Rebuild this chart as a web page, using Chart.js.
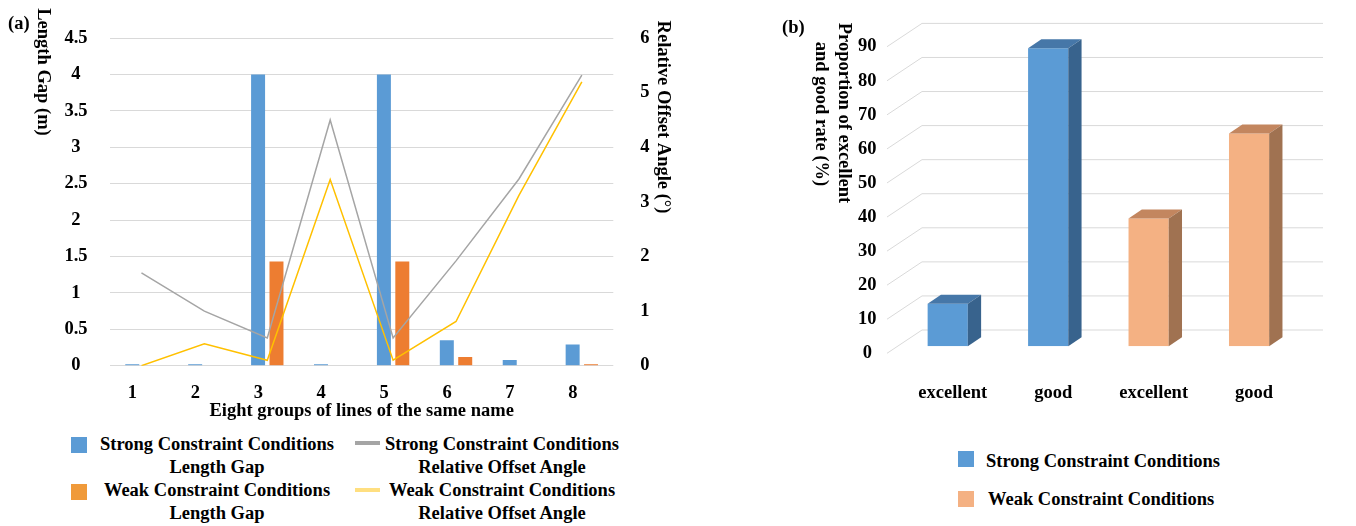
<!DOCTYPE html>
<html>
<head>
<meta charset="utf-8">
<script src="https://cdn.jsdelivr.net/npm/chart.js@4.4.1/dist/chart.umd.min.js"></script>
<style>
  body { margin: 0; background: #fff; }
  #wrap { position: relative; width: 1356px; height: 526px; overflow: hidden;
          font-family: "Liberation Serif", "Times New Roman", serif; font-weight: bold; font-size: 18.5px; color: #000; }
  canvas { position: absolute; top: 0; }
  .lg { position: absolute; line-height: 23px; white-space: nowrap; }
  .c { text-align: center; width: 270px; }
  .sw { position: absolute; }
</style>
</head>
<body>
<div id="wrap">
  <canvas id="chartA" width="700" height="420" style="left:0"></canvas>
  <canvas id="chartB" width="586" height="420" style="left:770px"></canvas>

  <!-- legend (a) -->
  <div class="sw" style="left:71px;top:437px;width:16px;height:16px;background:#5b9bd5"></div>
  <div class="lg c" style="left:82px;top:433px">Strong Constraint Conditions<br>Length Gap</div>
  <div class="sw" style="left:355px;top:441px;width:25px;height:4px;background:#a5a5a5"></div>
  <div class="lg c" style="left:367px;top:433px">Strong Constraint Conditions<br>Relative Offset Angle</div>
  <div class="sw" style="left:71px;top:484px;width:16px;height:16px;background:#f09a3a"></div>
  <div class="lg c" style="left:82px;top:479px">Weak Constraint Conditions<br>Length Gap</div>
  <div class="sw" style="left:355px;top:488px;width:25px;height:4px;background:#ffdf80"></div>
  <div class="lg c" style="left:367px;top:479px">Weak Constraint Conditions<br>Relative Offset Angle</div>

  <!-- legend (b) -->
  <div class="sw" style="left:958px;top:451px;width:16px;height:16px;background:#5b9bd5"></div>
  <div class="lg" style="left:986px;top:450px">Strong Constraint Conditions</div>
  <div class="sw" style="left:958px;top:491px;width:16px;height:16px;background:#f4b183"></div>
  <div class="lg" style="left:988px;top:488px">Weak Constraint Conditions</div>
</div>
<script>
// (a) eight groups of lines
const groups = ['1', '2', '3', '4', '5', '6', '7', '8'];
const strongGap = [0.02, 0.02, 4, 0.02, 4, 0.35, 0.08, 0.29];
const weakGap = [0, 0, 1.43, 0, 1.43, 0.12, 0, 0.02];
const strongAngle = [1.70, 1.00, 0.51, 4.50, 0.51, 1.92, 3.42, 5.32];
const weakAngle = [0, 0.40, 0.10, 3.41, 0.10, 0.81, 3.12, 5.20];

// (b) excellent / good rate
const rateCats = ['excellent', 'good', 'excellent', 'good'];
const strongRate = [12.5, 87.5, null, null];
const weakRate = [null, null, 37.5, 62.5];

const GRID = '#d9d9d9';
const FONT = '"Liberation Serif", "Times New Roman", serif';

Chart.defaults.font.family = FONT;
Chart.defaults.font.size = 18.5;
Chart.defaults.font.weight = 'bold';
Chart.defaults.color = '#000';

// panel tag + axis titles that read top to bottom
const sideTitles = {
  id: 'sideTitles',
  afterDraw(chart, args, o) {
    const ctx = chart.ctx;
    ctx.save();
    ctx.fillStyle = '#000';
    ctx.font = 'bold 18.5px ' + FONT;
    ctx.textBaseline = 'middle';
    ctx.textAlign = 'left';
    ctx.fillText(o.tag, o.tagX, o.tagY);
    o.lines.forEach(l => {
      ctx.save();
      ctx.translate(l.x, l.y);
      ctx.rotate(Math.PI / 2);
      ctx.textAlign = 'center';
      ctx.fillText(l.text, 0, 0);
      ctx.restore();
    });
    ctx.restore();
  }
};

// fake 3D columns and back wall for (b)
const box3d = {
  id: 'box3d',
  beforeDatasetsDraw(chart, args, o) {
    const { ctx, chartArea: a, scales: { y } } = chart;
    ctx.save();
    ctx.strokeStyle = GRID;
    ctx.lineWidth = 1;
    y.ticks.forEach(t => {
      const p = y.getPixelForValue(t.value);
      ctx.beginPath();
      ctx.moveTo(a.left + o.frontX, p + o.frontY);
      ctx.lineTo(a.left + o.backX, p + o.backY);
      ctx.lineTo(a.right + o.backEnd, p + o.backY);
      ctx.stroke();
    });
    ctx.restore();
  },
  afterDatasetsDraw(chart, args, o) {
    const ctx = chart.ctx;
    const dx = o.dx, dy = o.dy;
    ctx.save();
    chart.data.datasets.forEach((ds, di) => {
      const meta = chart.getDatasetMeta(di);
      meta.data.forEach((bar, i) => {
        if (ds.data[i] == null) return;
        const { x, y, base, width } = bar.getProps(['x', 'y', 'base', 'width'], true);
        const l = x - width / 2, r = x + width / 2;
        ctx.fillStyle = ds.topColor;
        ctx.beginPath();
        ctx.moveTo(l, y); ctx.lineTo(l + dx, y + dy); ctx.lineTo(r + dx, y + dy); ctx.lineTo(r, y);
        ctx.closePath(); ctx.fill();
        ctx.fillStyle = ds.sideColor;
        ctx.beginPath();
        ctx.moveTo(r, y); ctx.lineTo(r + dx, y + dy); ctx.lineTo(r + dx, base + dy); ctx.lineTo(r, base);
        ctx.closePath(); ctx.fill();
      });
    });
    ctx.restore();
  }
};

new Chart(document.getElementById('chartA'), {
  type: 'bar',
  data: {
    labels: groups,
    datasets: [
      { type: 'line', label: 'Strong Constraint Conditions Relative Offset Angle', data: strongAngle, yAxisID: 'y2',
        borderColor: '#a5a5a5', borderWidth: 1.5, pointRadius: 0, order: 0 },
      { type: 'line', label: 'Weak Constraint Conditions Relative Offset Angle', data: weakAngle, yAxisID: 'y2',
        borderColor: '#ffc000', borderWidth: 1.5, pointRadius: 0, order: 0 },
      { label: 'Strong Constraint Conditions Length Gap', data: strongGap, yAxisID: 'y', backgroundColor: '#5b9bd5',
        categoryPercentage: 0.585, barPercentage: 0.76, order: 1 },
      { label: 'Weak Constraint Conditions Length Gap', data: weakGap, yAxisID: 'y', backgroundColor: '#ed7d31',
        categoryPercentage: 0.585, barPercentage: 0.76, order: 1 }
    ]
  },
  options: {
    responsive: false,
    animation: false,
    layout: { padding: { top: 13.3, left: 0, right: 0, bottom: 0 } },
    plugins: {
      legend: { display: false },
      tooltip: { enabled: false },
      sideTitles: { tag: '(a)', tagX: 8, tagY: 24,
        lines: [{ x: 43, y: 72, text: 'Length Gap (m)' }, { x: 663, y: 117, text: 'Relative Offset Angle (°)' }] }
    },
    scales: {
      x: {
        grid: { display: false, drawTicks: false },
        border: { display: false },
        ticks: { padding: 16, labelOffset: -9 },
        title: { display: true, text: 'Eight groups of lines of the same name', padding: 0, font: { lineHeight: 1 } },
        afterFit(s) { s.height = 54.3; }
      },
      y: {
        position: 'left', min: 0, max: 4.5,
        ticks: { stepSize: 0.5, padding: 22.5, crossAlign: 'center', callback: v => String(+v.toFixed(1)) },
        grid: { color: GRID, drawTicks: false },
        border: { display: false },
        afterFit(s) { s.width = 110; }
      },
      y2: {
        position: 'right', min: 0, max: 6,
        ticks: { stepSize: 1, padding: 27 },
        grid: { display: false, drawTicks: false },
        border: { display: false },
        afterFit(s) { s.width = 86.7; }
      }
    }
  },
  plugins: [sideTitles]
});

new Chart(document.getElementById('chartB'), {
  type: 'bar',
  data: {
    labels: rateCats,
    datasets: [
      { label: 'Strong Constraint Conditions', data: strongRate, backgroundColor: '#5b9bd5',
        topColor: '#4677a8', sideColor: '#38638d', skipNull: true, categoryPercentage: 1, barPercentage: 0.4 },
      { label: 'Weak Constraint Conditions', data: weakRate, backgroundColor: '#f4b183',
        topColor: '#c3865f', sideColor: '#a07251', skipNull: true, categoryPercentage: 1, barPercentage: 0.4 }
    ]
  },
  options: {
    responsive: false,
    animation: false,
    layout: { padding: { top: 39.7, left: 0, right: 56.7, bottom: 0 } },
    plugins: {
      legend: { display: false },
      tooltip: { enabled: false },
      sideTitles: { tag: '(b)', tagX: 12, tagY: 28,
        lines: [{ x: 74, y: 113, text: 'Proportion of excellent' }, { x: 51, y: 114, text: 'and good rate (%)' }] },
      box3d: { dx: 13.3, dy: -9, frontX: -10.5, frontY: 7, backX: 24.5, backY: -16.3, backEnd: 23.7 }
    },
    scales: {
      x: {
        grid: { display: false, drawTicks: false },
        border: { display: false },
        ticks: { padding: 36, labelOffset: 5 },
        afterFit(s) { s.height = 73.7; }
      },
      y: {
        min: 0, max: 90,
        ticks: { stepSize: 10, padding: 21, crossAlign: 'center', labelOffset: 7 },
        grid: { display: false, drawTicks: false },
        border: { display: false },
        afterFit(s) { s.width = 127.5; }
      }
    }
  },
  plugins: [box3d, sideTitles]
});
</script>
</body>
</html>
